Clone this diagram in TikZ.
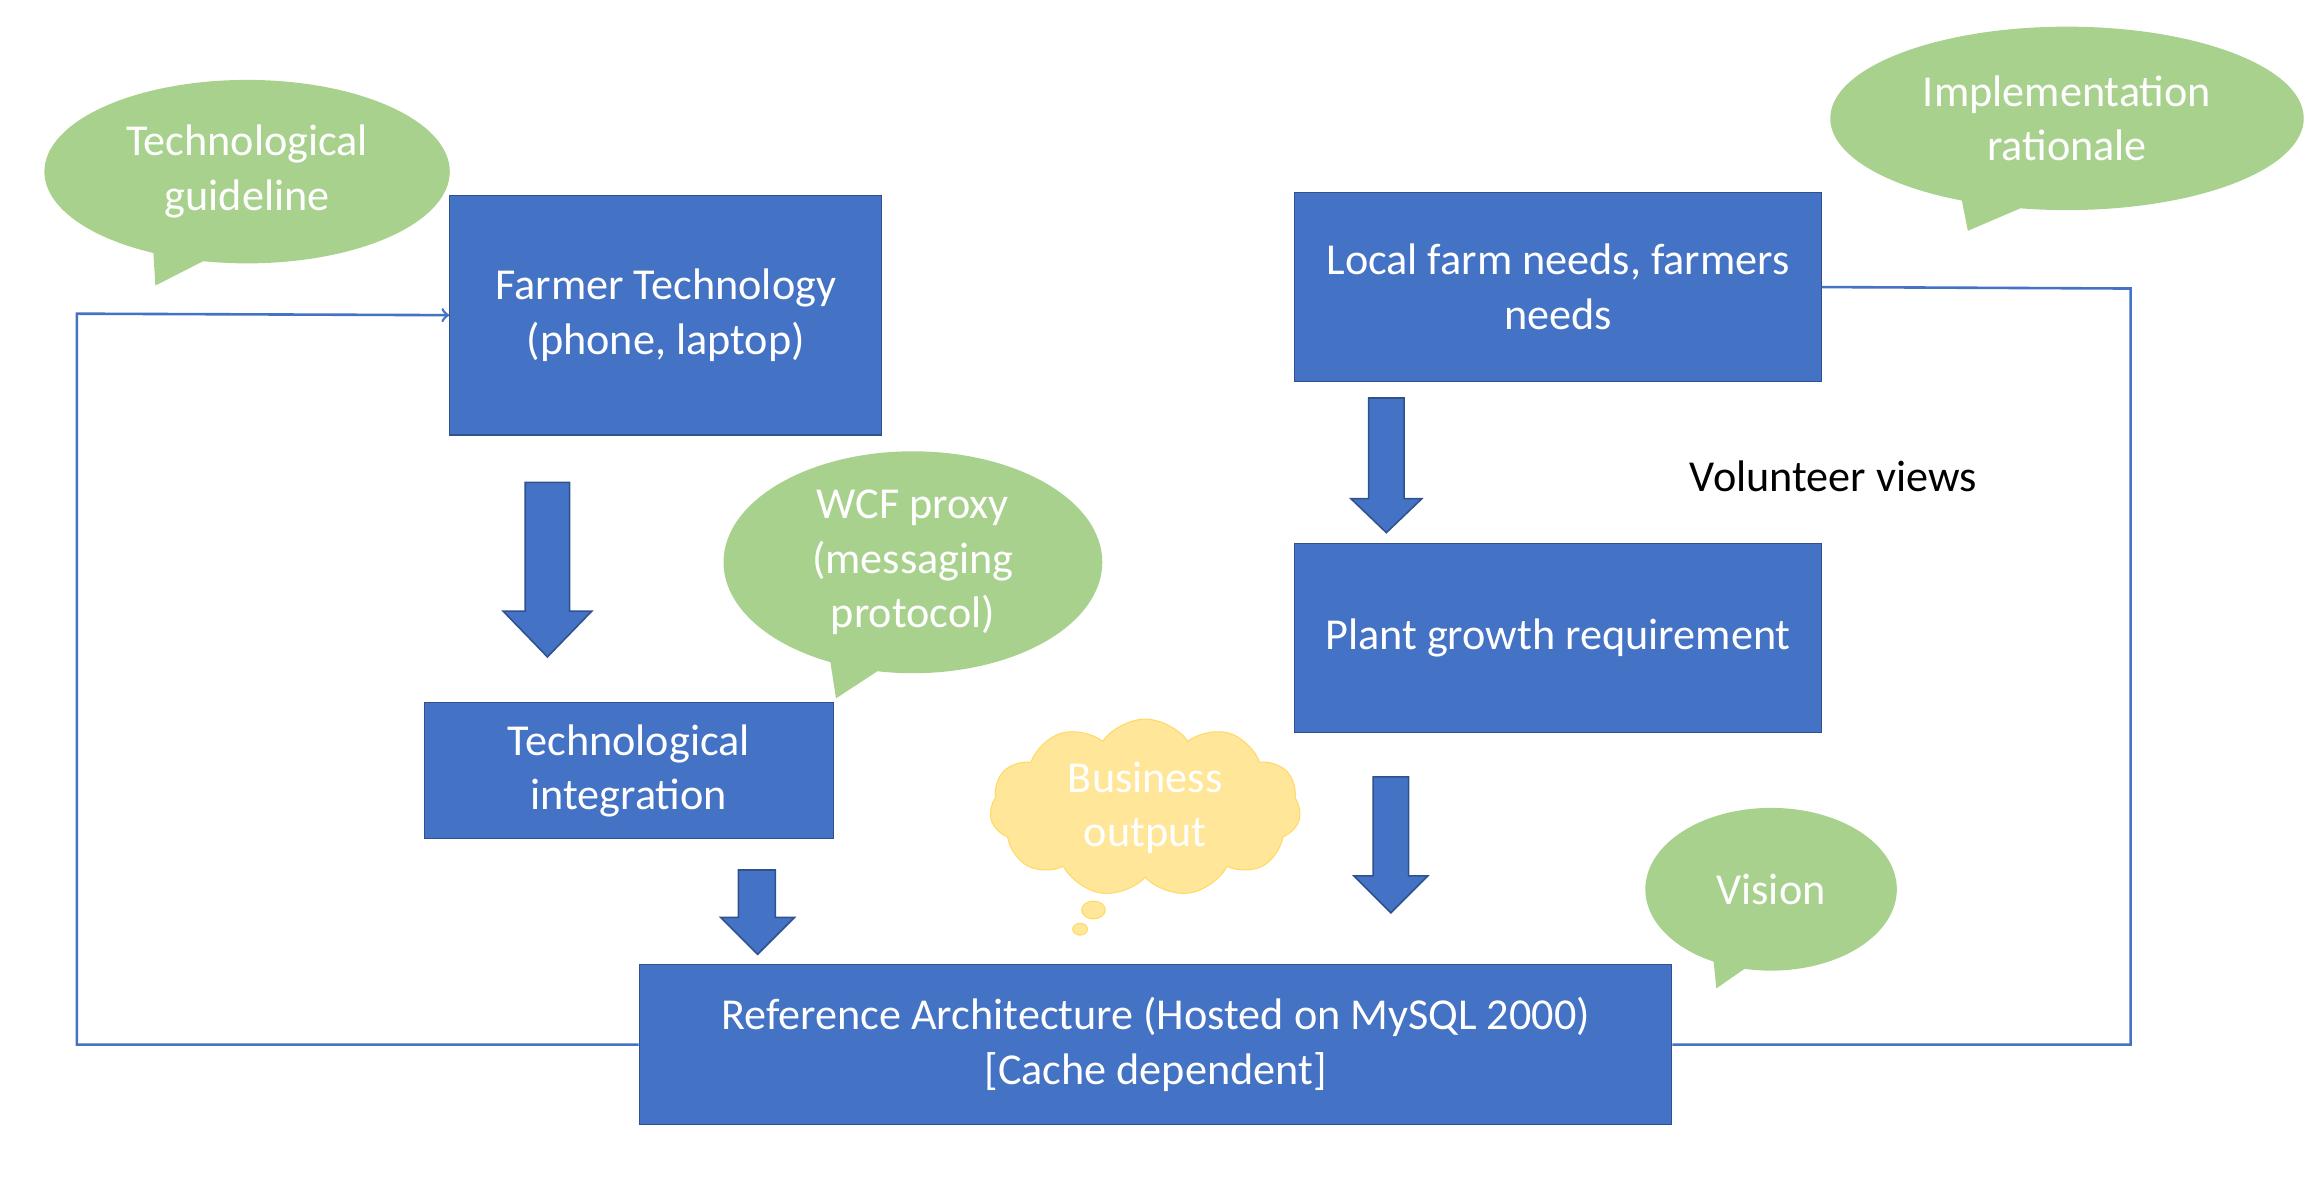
\documentclass[tikz,border=0pt]{standalone}
\usepackage{fontspec}
\setmainfont{Carlito}
\usetikzlibrary{shapes.callouts,shapes.symbols,shapes.geometric}
\definecolor{bx}{HTML}{4472C4}
\definecolor{bxd}{HTML}{2F528F}
\definecolor{gr}{HTML}{A9D18E}
\definecolor{cl}{HTML}{FFE699}
\definecolor{cld}{HTML}{FFD966}
\begin{document}
\begin{tikzpicture}[x=0.02cm,y=-0.02cm,
  box/.style={draw=bxd,fill=bx,text=white,align=center,font=\fontsize{17}{21}\selectfont,inner sep=0pt},
  call/.style={ellipse callout,fill=gr,draw=none,text=white,align=center,font=\fontsize{17}{21}\selectfont,inner sep=0pt},
  blk/.style={fill=bx,draw=bxd,line width=0.6pt},
  con/.style={draw=bx,line width=1pt}]
\useasboundingbox (0,0) rectangle (1568,806);
\node[box,minimum width=292*0.02cm,minimum height=162*0.02cm] (ft) at (450,213) {Farmer Technology\\(phone, laptop)};
\node[box,minimum width=276*0.02cm,minimum height=92*0.02cm] (ti) at (425,521) {Technological\\integration};
\node[box,minimum width=698*0.02cm,minimum height=108*0.02cm] (ra) at (781,706) {Reference Architecture (Hosted on MySQL 2000)\\{[}Cache dependent{]}};
\node[box,minimum width=356*0.02cm,minimum height=128*0.02cm] (lf) at (1053,194) {Local farm needs, farmers\\needs};
\node[box,minimum width=356*0.02cm,minimum height=128*0.02cm] (pg) at (1053,431) {Plant growth requirement};
\node[font=\fontsize{17}{21}\selectfont] (vv) at (1239,322) {Volunteer views};
% block arrows
\draw[blk] (355,326)--(385,326)--(385,413)--(400,413)--(370,444)--(340,413)--(355,413)--cycle;
\draw[blk] (499,588)--(524,588)--(524,620)--(537,620)--(512,645)--(487,620)--(499,620)--cycle;
\draw[blk] (925,269)--(949,269)--(949,337)--(961,337)--(937,360)--(913,337)--(925,337)--cycle;
\draw[blk] (928,525)--(952,525)--(952,592)--(965,592)--(940,617)--(915,592)--(928,592)--cycle;
% callouts
\node[call,minimum width=274*0.02cm,minimum height=124*0.02cm,callout absolute pointer={(105,193)}] (tg) at (167,116) {Technological\\guideline};
\node[call,minimum width=320*0.02cm,minimum height=124*0.02cm,callout absolute pointer={(1330,156)}] (ir) at (1397,80) {Implementation\\rationale};
\node[call,minimum width=256*0.02cm,minimum height=150*0.02cm,callout absolute pointer={(565,472)}] (wcf) at (617,380) {WCF proxy\\(messaging\\protocol)};
\node[call,minimum width=170*0.02cm,minimum height=110*0.02cm,callout absolute pointer={(1160,668)}] (vi) at (1197,601) {Vision};
% cloud
\node[cloud,cloud puffs=11,cloud puff arc=110,aspect=1.6,fill=cl,draw=cld,text=white,align=center,minimum width=210*0.02cm,minimum height=120*0.02cm,inner sep=0pt,font=\fontsize{17}{21}\selectfont] (bo) at (774,546) {Business\\output};
\draw[fill=cl,draw=cld] (739,615) ellipse (8 and 6);
\draw[fill=cl,draw=cld] (730,628) ellipse (5 and 4);
% connectors
\draw[con,->] (ra.west) -- (52,706) -- (52,212) -- (ft.west);
\draw[con] (lf.east) -- (1440,195) -- (1440,706) -- (ra.east);
\end{tikzpicture}
\end{document}
